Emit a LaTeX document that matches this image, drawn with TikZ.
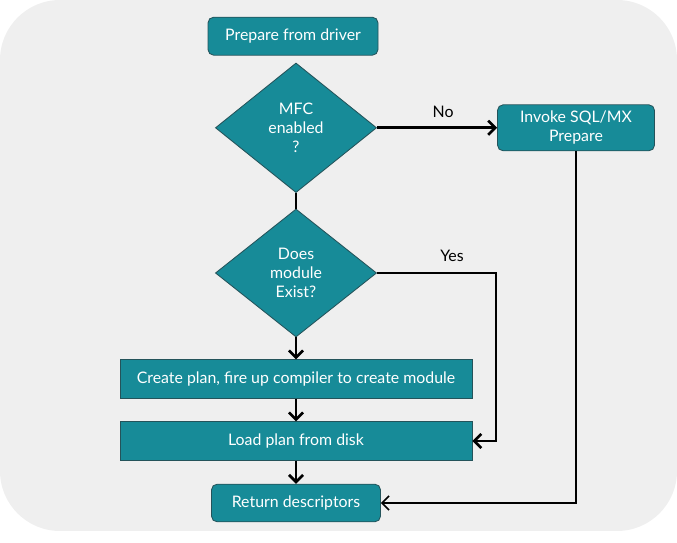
\documentclass[tikz,border=0pt]{standalone}
\usepackage{fontspec}
\setmainfont{Lato}
\usetikzlibrary{shapes.geometric,arrows.meta}
\definecolor{boxteal}{HTML}{178B98}
\definecolor{boxedge}{HTML}{24535A}
\definecolor{panelgray}{HTML}{EFEFEF}

\begin{document}
\begin{tikzpicture}[font=\fontsize{11.3}{13.5}\selectfont, every node/.style={align=center}]
\tikzset{
  stepbox/.style={fill=boxteal, draw=boxedge, line width=0.6pt, text=white, inner sep=2pt},
  roundbox/.style={stepbox, rounded corners=4pt},
  decision/.style={stepbox, diamond, inner sep=0pt},
  flow/.style={line width=1.9pt, -{Straight Barb[length=5pt,width=10pt,line width=1.9pt]}},
  thinflow/.style={line width=1.1pt, -{Straight Barb[length=5pt,width=10pt,line width=1.1pt]}}
}
\useasboundingbox (0,0) rectangle (16.925,13.575);
\fill[panelgray, rounded corners=1.5cm] (0,0.3) rectangle (16.925,13.575);

\node[roundbox, minimum width=4.25cm, minimum height=0.95cm] (prep) at (7.325,12.67) {Prepare from driver};
\node[decision, minimum width=4.03cm, minimum height=3.24cm] (mfc) at (7.4,10.38) {MFC\\enabled\\?};
\node[roundbox, minimum width=3.925cm, minimum height=1.15cm] (invoke) at (14.4,10.38) {Invoke SQL/MX\\Prepare};
\node[decision, minimum width=4.03cm, minimum height=3.2cm] (exist) at (7.4,6.75) {Does\\module\\Exist?};
\node[stepbox, minimum width=8.8cm, minimum height=0.96cm] (create) at (7.4,4.1) {Create plan, fire up compiler to create module};
\node[stepbox, minimum width=8.8cm, minimum height=0.96cm] (load) at (7.4,2.55) {Load plan from disk};
\node[roundbox, minimum width=4.225cm, minimum height=0.94cm] (ret) at (7.4,1.0) {Return descriptors};
\coordinate (yesturn) at (12.4,6.75);

\draw[flow] (mfc.east) -- node[above=3pt, pos=0.55, black] {No} (invoke.west);
\draw[line width=1.9pt] (mfc.south) -- (exist.north);
\draw[flow] (exist.east) -- node[above=4pt, pos=0.63, black] {Yes} (yesturn) |- (load.east);
\draw[flow] (exist.south) -- (create.north);
\draw[flow] (create.south) -- (load.north);
\draw[flow] (load.south) -- (ret.north);
\draw[thinflow] (invoke.south) |- (ret.east);
\end{tikzpicture}
\end{document}
